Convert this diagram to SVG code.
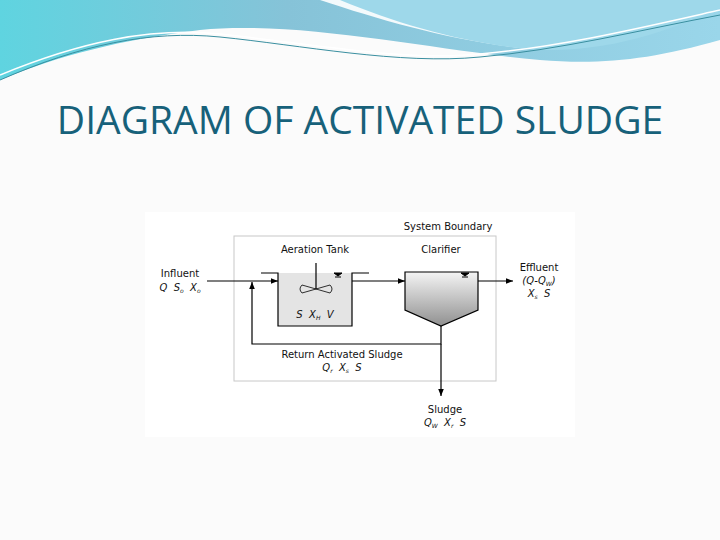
<svg xmlns="http://www.w3.org/2000/svg" width="720" height="540" viewBox="0 0 720 540">
<defs>
<linearGradient id="bg" x1="0" y1="0" x2="1" y2="0"><stop offset="0" stop-color="#5fd4e0"/><stop offset="0.4" stop-color="#86c3d8"/><stop offset="1" stop-color="#9ad6ea"/></linearGradient>
<linearGradient id="cl" x1="0" y1="0" x2="0" y2="1"><stop offset="0" stop-color="#f4f4f4"/><stop offset="1" stop-color="#909090"/></linearGradient>
<marker id="a" viewBox="0 0 10 10" refX="10" refY="5" markerWidth="6" markerHeight="6" orient="auto"><path d="M0,1 L10,5 L0,9 z" fill="#000"/></marker>
<style>
.t{font-family:"DejaVu Sans",sans-serif;font-size:10px;fill:#111;text-anchor:middle;white-space:pre}
.i{font-style:italic}
.l{stroke:#000;stroke-width:1.2;fill:none}
</style>
</defs>
<rect width="720" height="540" fill="#fbfbfb"/>
<path d="M0,0 H720 V40 C650,60 600,65 540,60 C430,50 300,20 200,30 C120,40 60,55 0,80 Z" fill="url(#bg)"/>
<path d="M320,0 C380,20 450,40 520,48 C600,55 660,30 720,5 V0 Z" fill="#fff" opacity="0.9"/>
<path d="M340,0 C400,25 470,45 540,50 C620,52 680,25 720,8 V0 Z" fill="#9ed8ea"/>
<path d="M0,80 C80,45 150,30 220,37 C300,45 400,65 480,57 C560,50 640,30 720,15" fill="none" stroke="#3a8fa0" stroke-width="1"/>
<path d="M0,75 C80,42 150,27 220,34 C300,42 400,62 480,54 C560,47 640,28 720,10" fill="none" stroke="#ffffff" stroke-width="1.5"/>
<text x="360" y="134" font-family="Open Sans, sans-serif" font-size="39" fill="#17617a" text-anchor="middle">DIAGRAM OF ACTIVATED SLUDGE</text>
<rect x="145" y="212" width="430" height="225" fill="#fff"/>
<rect id="boundary" x="234" y="236" width="262" height="145" fill="none" stroke="#c8c8c8" stroke-width="1"/>
<text class="t" x="448" y="230">System Boundary</text>
<g id="aeration">
<rect x="278" y="273" width="74" height="53" fill="#e4e4e4"/>
<path class="l" d="M261,273 H278 V326 H352 V273 H369"/>
<path d="M334,273 h8 l-4,3 z M335,277 h6" stroke="#000" stroke-width="1" fill="#000"/>
<line class="l" x1="316" y1="263" x2="316" y2="289"/>
<path d="M316,289 L302,285 Q298,289 302,293 Z M316,289 L330,285 Q334,289 330,293 Z" fill="none" stroke="#000" stroke-width="0.8"/>
<text class="t" x="315" y="253">Aeration Tank</text>
<text class="t i" x="315" y="318">S  X<tspan font-size="6" dy="2">H</tspan><tspan dy="-2">  V</tspan></text>
</g>
<g id="clarifier">
<path d="M405,272 H478 V310 L441,326 L405,310 Z" fill="url(#cl)" stroke="#000" stroke-width="1.2"/>
<path d="M461,273 h8 l-4,3 z M462,277 h6" stroke="#000" stroke-width="1" fill="#000"/>
<text class="t" x="441" y="253">Clarifier</text>
</g>
<g id="connectors">
<line class="l" x1="207" y1="281" x2="278" y2="281" marker-end="url(#a)"/>
<line class="l" x1="352" y1="281" x2="405" y2="281" marker-end="url(#a)"/>
<line class="l" x1="478" y1="281" x2="513" y2="281" marker-end="url(#a)"/>
<path class="l" d="M441,326 V344 H252 V282" marker-end="url(#a)"/>
<line class="l" x1="441" y1="344" x2="441" y2="396" marker-end="url(#a)"/>
</g>
<g id="influent">
<text class="t" x="180" y="277">Influent</text>
<text class="t i" x="180" y="291">Q  S<tspan font-size="6" dy="2">o</tspan><tspan dy="-2">  X</tspan><tspan font-size="6" dy="2">o</tspan></text>
</g>
<g id="effluent">
<text class="t" x="539" y="271">Effluent</text>
<text class="t i" x="539" y="284">(Q-Q<tspan font-size="6" dy="2">W</tspan><tspan dy="-2">)</tspan></text>
<text class="t i" x="539" y="297">X<tspan font-size="6" dy="2">s</tspan><tspan dy="-2">  S</tspan></text>
</g>
<g id="return">
<text class="t" x="342" y="358">Return Activated Sludge</text>
<text class="t i" x="342" y="371">Q<tspan font-size="6" dy="2">r</tspan><tspan dy="-2">  X</tspan><tspan font-size="6" dy="2">s</tspan><tspan dy="-2">  S</tspan></text>
</g>
<g id="sludge">
<text class="t" x="445" y="413">Sludge</text>
<text class="t i" x="445" y="426">Q<tspan font-size="6" dy="2">W</tspan><tspan dy="-2">  X</tspan><tspan font-size="6" dy="2">r</tspan><tspan dy="-2">  S</tspan></text>
</g>
</svg>
